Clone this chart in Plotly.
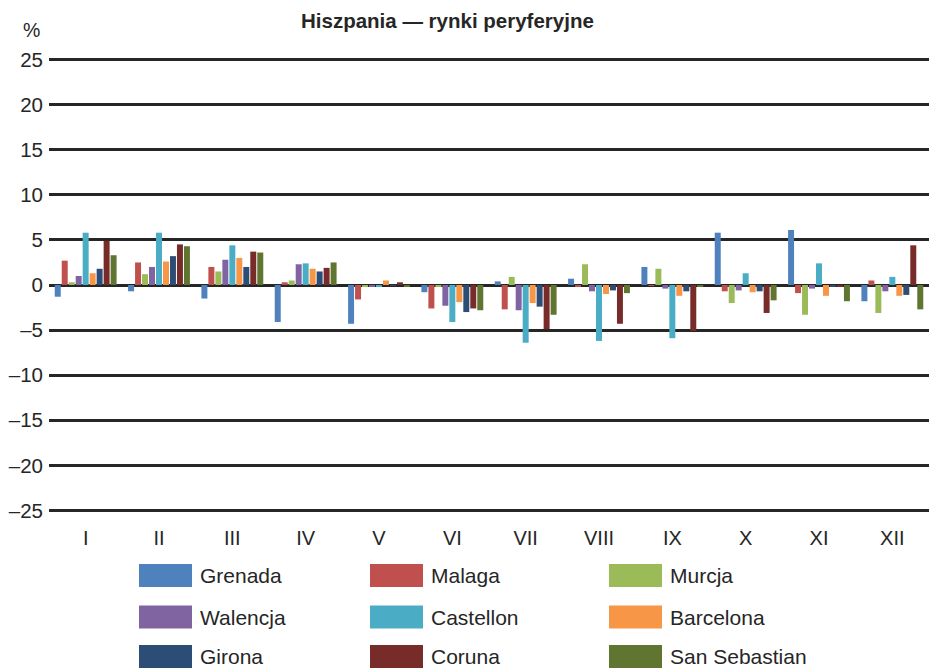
import plotly.graph_objects as go

# Month labels (Roman numerals)
months = ["I", "II", "III", "IV", "V", "VI", "VII", "VIII", "IX", "X", "XI", "XII"]

# Monthly change, % – one list per market
grenada    = [-1.3, -0.7, -1.5, -4.1, -4.3, -0.8,  0.4,  0.7,  2.0,  5.8,  6.1, -1.8]
malaga     = [ 2.7,  2.5,  2.0,  0.3, -1.6, -2.6, -2.7, -0.2, -0.1, -0.7, -0.9,  0.5]
murcja     = [ 0.3,  1.2,  1.5,  0.5, -0.2, -0.2,  0.9,  2.3,  1.8, -2.0, -3.3, -3.1]
walencja   = [ 1.0,  2.0,  2.8,  2.3, -0.2, -2.3, -2.8, -0.7, -0.4, -0.6, -0.4, -0.7]
castellon  = [ 5.8,  5.8,  4.4,  2.4, -0.2, -4.1, -6.4, -6.2, -5.9,  1.3,  2.4,  0.9]
barcelona  = [ 1.3,  2.6,  3.0,  1.8,  0.5, -1.9, -2.0, -1.0, -1.2, -0.8, -1.2, -1.2]
girona     = [ 1.8,  3.2,  2.0,  1.5, -0.1, -3.0, -2.4, -0.6, -0.7, -0.7, -0.2, -1.1]
coruna     = [ 4.9,  4.5,  3.7,  1.9,  0.3, -2.6, -4.9, -4.3, -5.1, -3.1, -0.2,  4.4]
sansebast  = [ 3.3,  4.3,  3.6,  2.5, -0.2, -2.8, -3.3, -0.9, -0.2, -1.7, -1.8, -2.7]

series_names = ["Grenada", "Malaga", "Murcja", "Walencja", "Castellon",
                "Barcelona", "Girona", "Coruna", "San Sebastian"]
series_values = [grenada, malaga, murcja, walencja, castellon,
                 barcelona, girona, coruna, sansebast]
series_colors = ["#4F81BD", "#C0504D", "#9BBB59", "#8064A2", "#4BACC6",
                 "#F79646", "#2C4D75", "#772C2A", "#5F7530"]

y_ticks = [25, 20, 15, 10, 5, 0, -5, -10, -15, -20, -25]
y_ticktext = [str(v) if v >= 0 else "\u2013" + str(-v) for v in y_ticks]

FONT = "Liberation Sans, Arial, sans-serif"
TXT = "#262626"

fig = go.Figure()
for name, vals, col in zip(series_names, series_values, series_colors):
    fig.add_trace(go.Bar(x=months, y=vals, name=name, marker_color=col,
                         marker_line_width=0, showlegend=False))

# plot-area geometry in pixels (used to place the legend block)
W, H = 929, 668
L, R, T, B = 49, 0, 55, 153
pw, ph = W - L - R, H - T - B


def px_x(x):
    return (x - L) / pw


def px_y(y):
    return (H - B - y) / ph


# legend: 3 x 3 grid of swatches with labels
col_x = [139, 370, 609]
row_y = [575.5, 617, 656.5]
shapes = []
annotations = []
for i, (name, col) in enumerate(zip(series_names, series_colors)):
    r, c = divmod(i, 3)
    x0 = col_x[c]
    yc = row_y[r]
    shapes.append(dict(type="rect", xref="paper", yref="paper",
                       x0=px_x(x0), x1=px_x(x0 + 53),
                       y0=px_y(yc + 11.5), y1=px_y(yc - 11.5),
                       fillcolor=col, line_width=0, layer="above"))
    annotations.append(dict(text=name, xref="paper", yref="paper",
                            x=px_x(x0 + 59), y=px_y(yc), xanchor="left",
                            yanchor="middle", showarrow=False,
                            font=dict(family=FONT, size=21, color=TXT)))

annotations.append(dict(text="<b>Hiszpania \u2014 rynki peryferyjne</b>",
                        xref="paper", yref="paper", x=px_x(447), y=px_y(20),
                        xanchor="center", yanchor="middle", showarrow=False,
                        font=dict(family=FONT, size=20.5, color=TXT)))
annotations.append(dict(text="%", xref="paper", yref="paper",
                        x=px_x(31.5), y=px_y(30), xanchor="center",
                        yanchor="middle", showarrow=False,
                        font=dict(family=FONT, size=19.5, color=TXT)))

fig.update_layout(
    width=W, height=H,
    margin=dict(l=L, r=R, t=T, b=B, pad=0),
    paper_bgcolor="white", plot_bgcolor="white",
    barmode="group", bargap=0.143, bargroupgap=0.143,
    font=dict(family=FONT, size=18, color=TXT),
    shapes=shapes, annotations=annotations,
    xaxis=dict(showgrid=False, showline=False, ticks="",
               tickfont=dict(family=FONT, size=20, color=TXT),
               ticklabelstandoff=9),
    yaxis=dict(range=[-25.5, 25.5], tickvals=y_ticks, ticktext=y_ticktext,
               showgrid=True, gridcolor="#262626", gridwidth=3,
               zeroline=True, zerolinecolor="#262626", zerolinewidth=3,
               showline=False, ticks="", ticklabelstandoff=5,
               tickfont=dict(family=FONT, size=20.5, color=TXT)),
)

fig.write_html("out.html")
